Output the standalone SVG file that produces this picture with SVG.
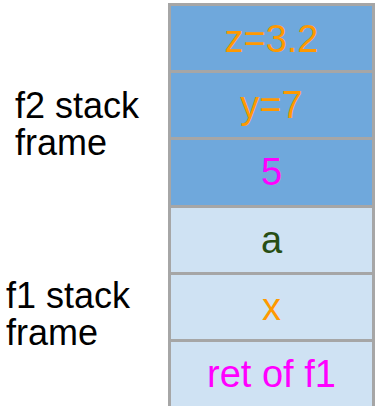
<svg xmlns="http://www.w3.org/2000/svg" width="376" height="406" viewBox="0 0 376 406">
  <style>
    .lbl { font-family: "Liberation Sans", Arial, sans-serif; font-size: 36px; fill: #000000; }
    .val { font-family: "Liberation Sans", Arial, sans-serif; font-size: 38px; text-anchor: middle; }
    .f2 { fill: #6fa8dc; stroke: #a6a6a6; stroke-width: 3; }
    .f1 { fill: #cfe2f3; stroke: #a6a6a6; stroke-width: 3; }
    .orange { fill: #ff9900; }
    .magenta { fill: #ff00ff; }
    .green { fill: #274e13; }
  </style>

  <rect width="376" height="406" fill="#ffffff"/>

  <!-- frame labels -->
  <g id="label-f2">
    <text class="lbl" x="15" y="118">f2 stack</text>
    <text class="lbl" x="15" y="155">frame</text>
  </g>
  <g id="label-f1">
    <text class="lbl" x="6" y="308">f1 stack</text>
    <text class="lbl" x="6" y="345">frame</text>
  </g>

  <!-- f2 frame cells -->
  <g id="cell-z">
    <rect class="f2" x="169.5" y="4.5" width="204" height="67"/>
    <text class="val orange" x="271.5" y="52">z=3.2</text>
  </g>
  <g id="cell-y">
    <rect class="f2" x="169.5" y="71.5" width="204" height="67"/>
    <text class="val orange" x="271.5" y="118">y=7</text>
  </g>
  <g id="cell-5">
    <rect class="f2" x="169.5" y="138.5" width="204" height="68"/>
    <text class="val magenta" x="271.5" y="185">5</text>
  </g>

  <!-- f1 frame cells -->
  <g id="cell-a">
    <rect class="f1" x="169.5" y="206.5" width="204" height="67"/>
    <text class="val green" x="271.5" y="253">a</text>
  </g>
  <g id="cell-x">
    <rect class="f1" x="169.5" y="273.5" width="204" height="67"/>
    <text class="val orange" x="271.5" y="320">x</text>
  </g>
  <g id="cell-ret">
    <rect class="f1" x="169.5" y="340.5" width="204" height="70"/>
    <text class="val magenta" x="271.5" y="387">ret of f1</text>
  </g>

  <g id="connectors"/>
</svg>
